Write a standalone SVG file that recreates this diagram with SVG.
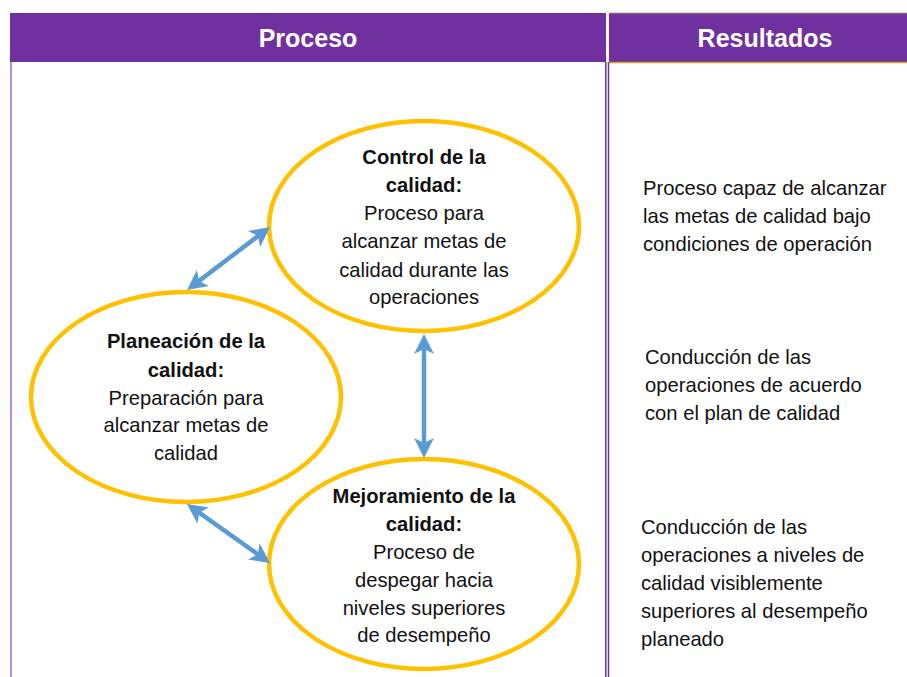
<svg xmlns="http://www.w3.org/2000/svg" width="907" height="677" viewBox="0 0 907 677">
<style>
.hdr{fill:#7030A0}
.htxt{font-family:"Liberation Sans",Arial,sans-serif;font-weight:bold;font-size:25px;fill:#fff;text-anchor:middle}
.ell{fill:#fff;stroke:#FFC000;stroke-width:4.5}
.t{font-family:"Liberation Sans",Arial,sans-serif;font-size:20.2px;fill:#111}
.c{text-anchor:middle}
.b{font-weight:bold}
.arr{stroke:#5B9BD5;stroke-width:4.5;fill:none;marker-start:url(#ah);marker-end:url(#ah)}
.frame{stroke:#9C6BC8;stroke-width:1.5;fill:none}
</style>
<defs>
<marker id="ah" viewBox="0 -11 22 22" refX="11" refY="0" markerWidth="22" markerHeight="22" markerUnits="userSpaceOnUse" orient="auto-start-reverse">
<path d="M0,-10 L20,0 L0,10 L5,0 Z" fill="#5B9BD5"/>
</marker>
</defs>
<rect width="907" height="677" fill="#fff"/>
<g id="headers">
<rect class="hdr" x="10" y="13" width="596" height="49"/>
<rect class="hdr" x="609" y="13" width="298" height="50"/>
<line x1="609" y1="13.5" x2="907" y2="13.5" stroke="#8a5a80" stroke-width="1.5"/>
<line x1="609" y1="62.5" x2="907" y2="62.5" stroke="#C9A227" stroke-width="1.5"/>
<text class="htxt" x="308" y="47">Proceso</text>
<text class="htxt" x="765" y="47">Resultados</text>
</g>
<g id="frame">
<line class="frame" x1="11" y1="62" x2="11" y2="677"/>
<line x1="605.8" y1="62" x2="605.8" y2="677" stroke="#7030A0" stroke-width="1.5"/>
<line x1="608.5" y1="62" x2="608.5" y2="677" stroke="#7030A0" stroke-width="1.5"/>
</g>
<g id="node-control">
<ellipse class="ell" cx="424" cy="226" rx="155" ry="105"/>
<text class="t c b" x="424" y="164">Control de la</text>
<text class="t c b" x="424" y="192">calidad:</text>
<text class="t c" x="424" y="220">Proceso para</text>
<text class="t c" x="424" y="248">alcanzar metas de</text>
<text class="t c" x="424" y="277">calidad durante las</text>
<text class="t c" x="424" y="304">operaciones</text>
</g>
<g id="node-planeacion">
<ellipse class="ell" cx="186" cy="397" rx="155" ry="105"/>
<text class="t c b" x="186" y="348">Planeación de la</text>
<text class="t c b" x="186" y="377">calidad:</text>
<text class="t c" x="186" y="405">Preparación para</text>
<text class="t c" x="186" y="432">alcanzar metas de</text>
<text class="t c" x="186" y="460">calidad</text>
</g>
<g id="node-mejoramiento">
<ellipse class="ell" cx="424" cy="564" rx="155" ry="105"/>
<text class="t c b" x="424" y="503">Mejoramiento de la</text>
<text class="t c b" x="424" y="531">calidad:</text>
<text class="t c" x="424" y="559">Proceso de</text>
<text class="t c" x="424" y="587">despegar hacia</text>
<text class="t c" x="424" y="615">niveles superiores</text>
<text class="t c" x="424" y="642">de desempeño</text>
</g>
<g id="connectors">
<line class="arr" x1="194.2" y1="284.6" x2="262.8" y2="232.4"/>
<line class="arr" x1="424" y1="343" x2="424" y2="449"/>
<line class="arr" x1="194.3" y1="509.2" x2="262.7" y2="557.8"/>
</g>
<g id="resultados">
<text class="t" x="643" y="195">Proceso capaz de alcanzar</text>
<text class="t" x="643" y="223">las metas de calidad bajo</text>
<text class="t" x="643" y="251">condiciones de operación</text>
<text class="t" x="645" y="364">Conducción de las</text>
<text class="t" x="645" y="392">operaciones de acuerdo</text>
<text class="t" x="645" y="420">con el plan de calidad</text>
<text class="t" x="641" y="534">Conducción de las</text>
<text class="t" x="641" y="562">operaciones a niveles de</text>
<text class="t" x="641" y="590">calidad visiblemente</text>
<text class="t" x="641" y="618">superiores al desempeño</text>
<text class="t" x="641" y="646">planeado</text>
</g>
</svg>
